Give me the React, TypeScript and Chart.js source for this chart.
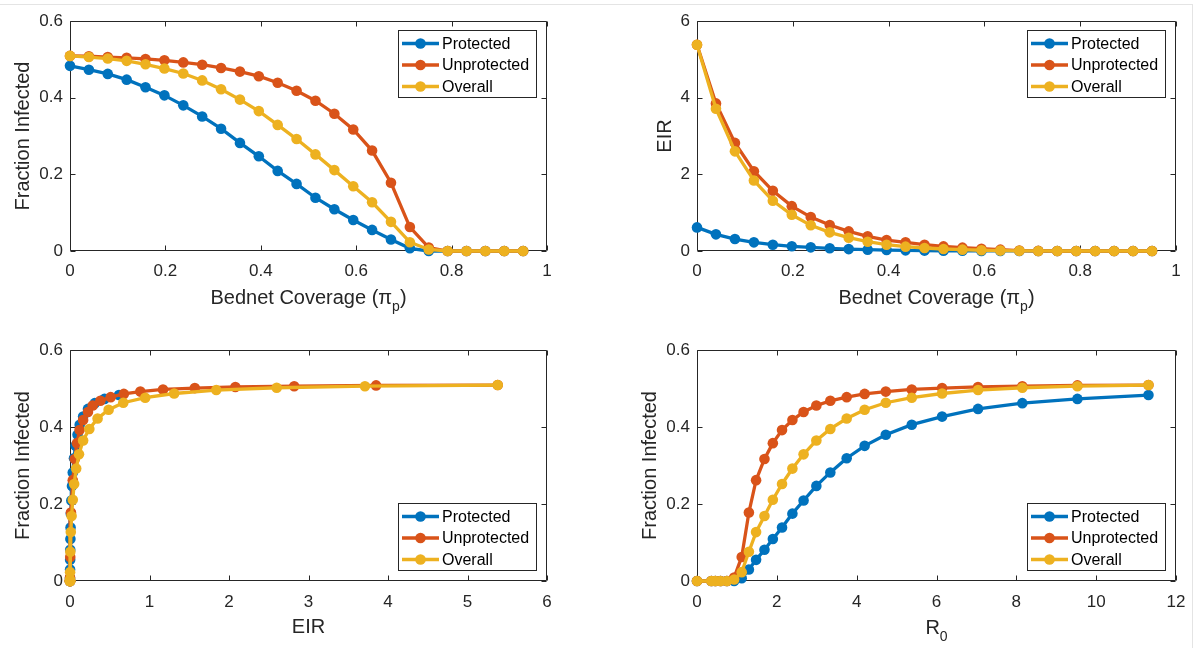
import React, { useEffect, useRef } from "react";
import { Chart, registerables } from "chart.js";

Chart.register(...registerables);

// ---------------- data ----------------
const coverage = [
  0, 0.0396, 0.0792, 0.1188, 0.1583, 0.1979, 0.2375, 0.2771, 0.3167, 0.3563,
  0.3958, 0.4354, 0.475, 0.5146, 0.5542, 0.5938, 0.6333, 0.6729, 0.7125,
  0.7521, 0.7917, 0.8313, 0.8708, 0.9104, 0.95,
];
const fracProtected = [
  0.483, 0.473, 0.462, 0.447, 0.427, 0.406, 0.38, 0.351, 0.319, 0.282, 0.247,
  0.209, 0.175, 0.139, 0.109, 0.081, 0.055, 0.03, 0.007, 0, 0, 0, 0, 0, 0,
];
const fracUnprotected = [
  0.509, 0.508, 0.506, 0.504, 0.501, 0.4975, 0.492, 0.486, 0.4775, 0.468,
  0.456, 0.439, 0.418, 0.392, 0.358, 0.317, 0.262, 0.178, 0.0625, 0.009, 0, 0,
  0, 0, 0,
];
const fracOverall = [
  0.509, 0.506, 0.502, 0.496, 0.487, 0.476, 0.463, 0.445, 0.422, 0.395, 0.365,
  0.329, 0.292, 0.252, 0.211, 0.169, 0.127, 0.076, 0.023, 0.004, 0, 0, 0, 0, 0,
];
const eirProtected = [
  0.616, 0.434, 0.312, 0.226, 0.165, 0.122, 0.095, 0.07, 0.05, 0.035, 0.025,
  0.017, 0.01, 0.007, 0.005, 0.003, 0.002, 0.001, 0.0003, 0, 0, 0, 0, 0, 0,
];
const eirUnprotected = [
  5.38, 3.85, 2.82, 2.08, 1.57, 1.17, 0.885, 0.677, 0.512, 0.382, 0.286, 0.226,
  0.165, 0.12, 0.087, 0.06, 0.035, 0.012, 0.003, 0, 0, 0, 0, 0, 0,
];
const eirOverall = [
  5.38, 3.71, 2.6, 1.84, 1.31, 0.946, 0.67, 0.486, 0.347, 0.243, 0.165, 0.113,
  0.078, 0.052, 0.035, 0.02, 0.01, 0.004, 0.001, 0, 0, 0, 0, 0, 0,
];
const r0Values = [
  11.31, 9.53, 8.15, 7.04, 6.14, 5.38, 4.73, 4.2, 3.75, 3.34, 2.99, 2.67, 2.39,
  2.13, 1.9, 1.69, 1.48, 1.3, 1.12, 0.93, 0.75, 0.59, 0.46, 0.36, 0,
];

const seriesNames = ["Protected", "Unprotected", "Overall"];
const seriesColors = ["#0072BD", "#D95319", "#EDB120"];

const coverageAxis = { min: 0, max: 1, step: 0.2 };
const fracAxis = { min: 0, max: 0.6, step: 0.2 };
const eirAxisY = { min: 0, max: 6, step: 2 };
const eirAxisX = { min: 0, max: 6, step: 1 };
const r0Axis = { min: 0, max: 12, step: 2 };

// ---------------- style ----------------
const FONT = '"Liberation Sans", Arial, Helvetica, sans-serif';
const AXIS_COLOR = "#262626";
const TICK_FONT = 17;
const LABEL_FONT = 20;
const LEGEND_FONT = 16;

type Seg = { t: string; sub?: boolean };

type PanelCfg = {
  left: number;
  top: number;
  w: number;
  h: number;
  padTop: number;
  padRight: number;
  yWidth: number;
  xHeight: number;
  xs: number[][];
  ys: number[][];
  xAxis: { min: number; max: number; step: number };
  yAxis: { min: number; max: number; step: number };
  xTitle: Seg[];
  xTitleBase: number;
  yTitle: string;
  yTitleX: number;
  legendPos: "top" | "bottom";
  xTickPad: number;
};

const panels: PanelCfg[] = [
  {
    left: 0, top: 0, w: 599, h: 324, padTop: 21, padRight: 52, yWidth: 70, xHeight: 73,
    xs: [coverage, coverage, coverage],
    ys: [fracProtected, fracUnprotected, fracOverall],
    xAxis: coverageAxis, yAxis: fracAxis,
    xTitle: [{ t: "Bednet Coverage (\u03C0" }, { t: "p", sub: true }, { t: ")" }],
    xTitleBase: 304, yTitle: "Fraction Infected", yTitleX: 23, legendPos: "top", xTickPad: 10,
  },
  {
    left: 599, top: 0, w: 599, h: 324, padTop: 21, padRight: 22, yWidth: 98, xHeight: 73,
    xs: [coverage, coverage, coverage],
    ys: [eirProtected, eirUnprotected, eirOverall],
    xAxis: coverageAxis, yAxis: eirAxisY,
    xTitle: [{ t: "Bednet Coverage (\u03C0" }, { t: "p", sub: true }, { t: ")" }],
    xTitleBase: 304, yTitle: "EIR", yTitleX: 66, legendPos: "top", xTickPad: 10,
  },
  {
    left: 0, top: 324, w: 599, h: 324, padTop: 26, padRight: 52, yWidth: 70, xHeight: 67,
    xs: [eirProtected, eirUnprotected, eirOverall],
    ys: [fracProtected, fracUnprotected, fracOverall],
    xAxis: eirAxisX, yAxis: fracAxis,
    xTitle: [{ t: "EIR" }],
    xTitleBase: 309, yTitle: "Fraction Infected", yTitleX: 23, legendPos: "bottom", xTickPad: 11,
  },
  {
    left: 599, top: 324, w: 599, h: 324, padTop: 26, padRight: 22, yWidth: 98, xHeight: 67,
    xs: [r0Values, r0Values, r0Values],
    ys: [fracProtected, fracUnprotected, fracOverall],
    xAxis: r0Axis, yAxis: fracAxis,
    xTitle: [{ t: "R" }, { t: "0", sub: true }],
    xTitleBase: 310, yTitle: "Fraction Infected", yTitleX: 51, legendPos: "bottom", xTickPad: 11,
  },
];

const fmt = (v: any) => String(Math.round(Number(v) * 1000) / 1000);

function makePlugin(cfg: PanelCfg) {
  return {
    id: "matlabLook",
    beforeDatasetsDraw(chart: any) {
      const { ctx, chartArea: a } = chart;
      const sx = chart.scales.x;
      const sy = chart.scales.y;
      const L = Math.round(a.left) + 0.5;
      const R = Math.round(a.right) - 0.5;
      const T = Math.round(a.top) + 0.5;
      const B = Math.round(a.bottom) - 0.5;
      ctx.save();
      ctx.strokeStyle = AXIS_COLOR;
      ctx.lineWidth = 1;
      ctx.beginPath();
      ctx.rect(L, T, R - L, B - T);
      const tl = 5;
      for (const t of sx.ticks) {
        const px = Math.round(sx.getPixelForValue(t.value)) + 0.5;
        ctx.moveTo(px, B);
        ctx.lineTo(px, B - tl);
        ctx.moveTo(px, T);
        ctx.lineTo(px, T + tl);
      }
      for (const t of sy.ticks) {
        const py = Math.round(sy.getPixelForValue(t.value)) + 0.5;
        ctx.moveTo(L, py);
        ctx.lineTo(L + tl, py);
        ctx.moveTo(R, py);
        ctx.lineTo(R - tl, py);
      }
      ctx.stroke();
      ctx.restore();
    },
    afterDatasetsDraw(chart: any) {
      const { ctx, chartArea: a } = chart;
      const bw = 139;
      const bh = 68;
      const bx = Math.round(a.right) - 10 - bw;
      const by = cfg.legendPos === "top" ? Math.round(a.top) + 9 : Math.round(a.bottom) - 10 - bh;
      ctx.save();
      ctx.fillStyle = "#ffffff";
      ctx.fillRect(bx, by, bw, bh);
      ctx.strokeStyle = AXIS_COLOR;
      ctx.lineWidth = 1;
      ctx.strokeRect(bx + 0.5, by + 0.5, bw - 1, bh - 1);
      const rows = [13.5, 35, 56.5];
      ctx.font = `${LEGEND_FONT}px ${FONT}`;
      ctx.textBaseline = "middle";
      ctx.textAlign = "left";
      chart.data.datasets.forEach((ds: any, i: number) => {
        const y = by + rows[i];
        ctx.strokeStyle = ds.borderColor;
        ctx.lineWidth = 3.3;
        ctx.beginPath();
        ctx.moveTo(bx + 4, y);
        ctx.lineTo(bx + 41, y);
        ctx.stroke();
        ctx.fillStyle = ds.borderColor;
        ctx.beginPath();
        ctx.arc(bx + 22.5, y, 5.3, 0, Math.PI * 2);
        ctx.fill();
        ctx.fillStyle = "#000000";
        ctx.fillText(ds.label, bx + 44, y + 1);
      });
      ctx.restore();
    },
    afterDraw(chart: any) {
      const { ctx, chartArea: a } = chart;
      ctx.save();
      ctx.fillStyle = AXIS_COLOR;
      ctx.textBaseline = "alphabetic";
      ctx.textAlign = "left";
      const mainFont = `${LABEL_FONT}px ${FONT}`;
      const subFont = `${Math.round(LABEL_FONT * 0.7)}px ${FONT}`;
      let total = 0;
      const widths = cfg.xTitle.map((s) => {
        ctx.font = s.sub ? subFont : mainFont;
        const w = ctx.measureText(s.t).width;
        total += w;
        return w;
      });
      let x = (a.left + a.right) / 2 - total / 2;
      cfg.xTitle.forEach((s, i) => {
        ctx.font = s.sub ? subFont : mainFont;
        ctx.fillText(s.t, x, cfg.xTitleBase + (s.sub ? 7 : 0));
        x += widths[i];
      });
      ctx.font = mainFont;
      ctx.translate(cfg.yTitleX, (a.top + a.bottom) / 2);
      ctx.rotate(-Math.PI / 2);
      ctx.textAlign = "center";
      ctx.textBaseline = "middle";
      ctx.fillText(cfg.yTitle, 0, 0);
      ctx.restore();
    },
  };
}

function Panel({ cfg }: { cfg: PanelCfg }) {
  const ref = useRef<HTMLCanvasElement>(null);
  useEffect(() => {
    if (!ref.current) return;
    const datasets = seriesNames.map((name, i) => ({
      label: name,
      data: cfg.xs[i].map((x, k) => ({ x, y: cfg.ys[i][k] })),
      borderColor: seriesColors[i],
      backgroundColor: seriesColors[i],
      pointBackgroundColor: seriesColors[i],
      pointBorderColor: seriesColors[i],
      pointBorderWidth: 0,
      pointRadius: 5.3,
      pointHoverRadius: 5.3,
      borderWidth: 3.3,
      tension: 0,
      fill: false,
      showLine: true,
      clip: false as any,
      order: 2 - i,
    }));
    const tickFont = { family: FONT, size: TICK_FONT };
    const chart = new Chart(ref.current, {
      type: "line",
      data: { datasets },
      options: {
        animation: false,
        responsive: false,
        devicePixelRatio: 1,
        events: [],
        layout: {
          autoPadding: false,
          padding: { left: 0, right: cfg.padRight, top: cfg.padTop, bottom: 0 },
        },
        plugins: { legend: { display: false }, tooltip: { enabled: false }, title: { display: false } },
        scales: {
          x: {
            type: "linear",
            min: cfg.xAxis.min,
            max: cfg.xAxis.max,
            grid: { display: false, drawTicks: false },
            border: { display: false },
            ticks: {
              stepSize: cfg.xAxis.step,
              autoSkip: false,
              maxRotation: 0,
              padding: cfg.xTickPad,
              color: AXIS_COLOR,
              font: tickFont,
              callback: fmt,
            },
            afterFit: (s: any) => {
              s.height = cfg.xHeight;
            },
          },
          y: {
            type: "linear",
            min: cfg.yAxis.min,
            max: cfg.yAxis.max,
            grid: { display: false, drawTicks: false },
            border: { display: false },
            ticks: {
              stepSize: cfg.yAxis.step,
              autoSkip: false,
              padding: 7,
              color: AXIS_COLOR,
              font: tickFont,
              callback: fmt,
            },
            afterFit: (s: any) => {
              s.width = cfg.yWidth;
            },
          },
        },
      } as any,
      plugins: [makePlugin(cfg) as any],
    });
    return () => chart.destroy();
  }, []);
  return (
    <canvas
      ref={ref}
      width={cfg.w}
      height={cfg.h}
      style={{ position: "absolute", left: cfg.left, top: cfg.top, width: cfg.w, height: cfg.h }}
    />
  );
}

export default function App() {
  return (
    <div
      style={{
        position: "fixed",
        left: 0,
        top: 0,
        width: 1198,
        height: 648,
        background: "#ffffff",
        overflow: "hidden",
      }}
    >
      <div
        style={{
          position: "absolute",
          left: 0,
          top: 4,
          width: 1193,
          height: 644,
          borderTop: "1px solid #e4e4e4",
          borderRight: "1px solid #e4e4e4",
          boxSizing: "border-box",
        }}
      />
      {panels.map((p, i) => (
        <Panel key={i} cfg={p} />
      ))}
    </div>
  );
}
